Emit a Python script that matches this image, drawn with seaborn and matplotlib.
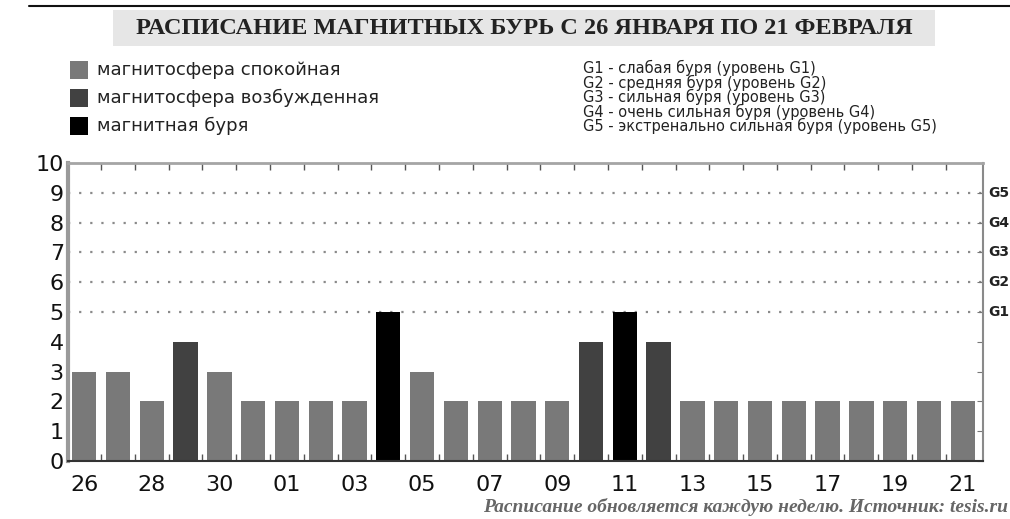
import matplotlib
matplotlib.use("Agg")
import matplotlib.pyplot as plt
import seaborn as sns
import pandas as pd
from matplotlib.patches import Rectangle
from matplotlib.ticker import FixedLocator

# ---- data ----
days = ["26", "27", "28", "29", "30", "31", "01", "02", "03", "04", "05", "06", "07", "08",
        "09", "10", "11", "12", "13", "14", "15", "16", "17", "18", "19", "20", "21"]
kp_values = [3, 3, 2, 4, 3, 2, 2, 2, 2, 5, 3, 2, 2, 2, 2, 4, 5, 4, 2, 2, 2, 2, 2, 2, 2, 2, 2]
states = ["спокойная", "спокойная", "спокойная", "возбужденная", "спокойная", "спокойная",
          "спокойная", "спокойная", "спокойная", "буря", "спокойная", "спокойная", "спокойная",
          "спокойная", "спокойная", "возбужденная", "буря", "возбужденная", "спокойная",
          "спокойная", "спокойная", "спокойная", "спокойная", "спокойная", "спокойная",
          "спокойная", "спокойная"]
state_colors = {"спокойная": "#797979", "возбужденная": "#414141", "буря": "#000000"}
legend_labels = ["магнитосфера спокойная", "магнитосфера возбужденная", "магнитная буря"]
legend_keys = ["спокойная", "возбужденная", "буря"]
g_levels = [5, 6, 7, 8, 9]
g_names = ["G1", "G2", "G3", "G4", "G5"]
g_descriptions = ["G1 - слабая буря (уровень G1)",
                  "G2 - средняя буря (уровень G2)",
                  "G3 - сильная буря (уровень G3)",
                  "G4 - очень сильная буря (уровень G4)",
                  "G5 - экстренально сильная буря (уровень G5)"]
title = "РАСПИСАНИЕ МАГНИТНЫХ БУРЬ С 26 ЯНВАРЯ ПО 21 ФЕВРАЛЯ"
footer = "Расписание обновляется каждую неделю. Источник: tesis.ru"

df = pd.DataFrame({"day": days, "kp": kp_values, "state": states})

sns.set_style("white")
plt.rcParams["font.family"] = ["DejaVu Sans"]

fig = plt.figure(figsize=(10.10, 5.19), dpi=100)
ax = fig.add_axes([68 / 1010, 1 - 461 / 519, (983 - 68) / 1010, (461 - 163) / 519])

sns.barplot(data=df, x="day", y="kp", hue="state", palette=state_colors, order=days,
            dodge=False, legend=False, width=0.72, saturation=1, ax=ax,
            edgecolor="none")

ax.set_ylim(0, 10)
ax.set_xlim(-0.48, len(days) - 0.4)
ax.set_xlabel("")
ax.set_ylabel("")
ax.set_yticks(range(0, 11))
ax.set_yticklabels([str(i) for i in range(0, 11)], fontsize=16, color="#111111")
ax.set_xticks(range(0, len(days), 2))
ax.set_xticklabels(days[::2], fontsize=16, color="#111111")
ax.xaxis.set_minor_locator(FixedLocator([i + 0.5 for i in range(len(days) - 1)]))
ax.tick_params(axis="x", which="major", length=0, pad=10)
ax.tick_params(axis="x", which="minor", top=True, bottom=True, direction="in",
               length=5, color="#555555", width=1)
ax.tick_params(axis="y", which="major", left=False, right=True, direction="in",
               length=4, color="#777777", pad=3)

for lvl in g_levels:
    ax.axhline(lvl, color="#8a8a8a", linestyle=(0, (1, 4)), linewidth=1.6, zorder=0)

for lvl, nm in zip(g_levels, g_names):
    ax.text(988 / 1010, 1 - (461 - (lvl / 10) * 298) / 519, nm, transform=fig.transFigure,
            fontsize=10, fontweight="bold", color="#222222", va="center", ha="left")

ax.spines["left"].set_color("#9a9a9a")
ax.spines["left"].set_linewidth(3)
ax.spines["top"].set_color("#a5a5a5")
ax.spines["top"].set_linewidth(2)
ax.spines["right"].set_color("#8a8a8a")
ax.spines["right"].set_linewidth(1.5)
ax.spines["bottom"].set_color("#333333")
ax.spines["bottom"].set_linewidth(1.5)

# top rule and title band
fig.add_artist(plt.Line2D([29 / 1010, 1.0], [1 - 6 / 519, 1 - 6 / 519],
                          color="#111111", linewidth=1.5))
fig.add_artist(Rectangle((113 / 1010, 1 - 46 / 519), (935 - 113) / 1010, 36 / 519,
                         facecolor="#e6e6e6", edgecolor="none"))
fig.text(524 / 1010, 1 - 28 / 519, title, ha="center", va="center",
         fontsize=17.5, fontweight="bold", family="Liberation Serif", color="#222222")

# state legend
for i, (lab, key) in enumerate(zip(legend_labels, legend_keys)):
    yc = 70 + i * 28
    fig.add_artist(Rectangle((70 / 1010, 1 - (yc + 9) / 519), 18 / 1010, 18 / 519,
                             facecolor=state_colors[key], edgecolor="none"))
    fig.text(97 / 1010, 1 - yc / 519, lab, ha="left", va="center", fontsize=13,
             color="#222222")

# G legend
for i, txt in enumerate(g_descriptions):
    yc = 68 + i * 14.6
    fig.text(583 / 1010, 1 - yc / 519, txt, ha="left", va="center", fontsize=10.5,
             color="#222222")

fig.text(1008 / 1010, 1 - 507 / 519, footer, ha="right", va="center", fontsize=14,
         style="italic", fontweight="bold", family="Liberation Serif", color="#666666")

fig.savefig("out.png", dpi=100)
